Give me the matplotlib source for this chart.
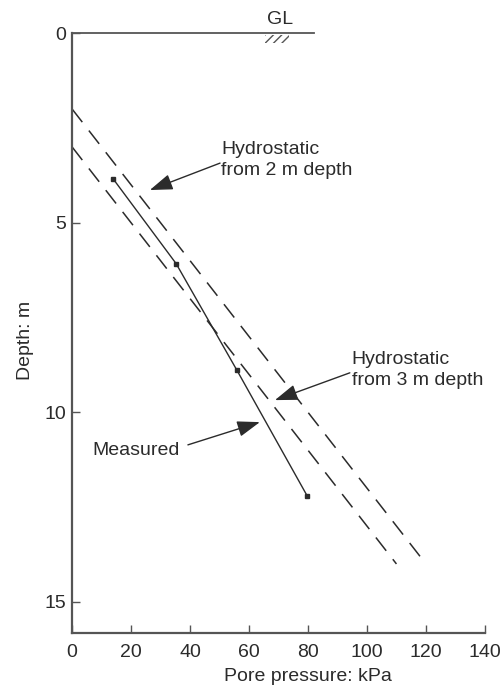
import matplotlib
matplotlib.use("Agg")
import matplotlib.pyplot as plt
from matplotlib.patches import Rectangle

plt.rcParams['font.family'] = ['Liberation Sans', 'DejaVu Sans']

# Data
measured_p = [13.9, 35.3, 55.9, 79.7]      # kPa
measured_z = [3.84, 6.08, 8.89, 12.2]      # m
hydro2_p = [0, 120]
hydro2_z = [2, 14]
hydro3_p = [0, 110]
hydro3_z = [3, 14]
gl_extent = [0, 82]
x_ticks = [0, 20, 40, 60, 80, 100, 120, 140]
y_ticks = [0, 5, 10, 15]

col = '#2b2b2b'
fs = 14
fig = plt.figure(figsize=(5.02, 6.88), dpi=100)
ax = fig.add_axes([0.1434, 0.080, 0.8226, 0.872])

ax.plot(hydro2_p, hydro2_z, color=col, lw=1.1, dashes=(11, 7))
ax.plot(hydro3_p, hydro3_z, color=col, lw=1.1, dashes=(11, 7))
ax.plot(measured_p, measured_z, color=col, lw=1.0, marker='s', ms=3.5)

# ground level line
ax.plot(gl_extent, [0, 0], color='#555555', lw=1.3, clip_on=False)
ax.text(70.5, -0.12, 'GL', ha='center', va='bottom', fontsize=fs, color=col)
ax.add_patch(Rectangle((65.5, 0.05), 8, 0.2, hatch='////', fill=False,
                       lw=0, edgecolor='#555555', clip_on=False))

ax.set_xlim(0, 140)
ax.set_ylim(15.82, 0)
ax.set_xticks(x_ticks)
ax.set_yticks(y_ticks)
ax.tick_params(direction='in', length=6, width=1, colors='#555555',
               labelcolor=col, labelsize=fs)
ax.tick_params(axis='x', pad=8)
ax.tick_params(axis='y', pad=4)
for s in ['top', 'right']:
    ax.spines[s].set_visible(False)
for s in ['left', 'bottom']:
    ax.spines[s].set_color('#555555')
    ax.spines[s].set_linewidth(1.6)

ax.set_xlabel('Pore pressure: kPa', fontsize=fs, color=col, labelpad=5, x=0.571)
ax.set_ylabel('Depth: m', fontsize=fs, color=col, labelpad=8, y=0.488)

ap = dict(arrowstyle='-|>,head_length=1.0,head_width=0.35', color=col, lw=1.0,
          mutation_scale=14, shrinkA=0, shrinkB=0)
ax.annotate('', xy=(26.4, 4.14), xytext=(50.2, 3.43), arrowprops=ap)
ax.annotate('', xy=(68.8, 9.68), xytext=(94.2, 8.96), arrowprops=ap)
ax.annotate('', xy=(63.7, 10.26), xytext=(39.3, 10.86), arrowprops=ap)

ax.text(50.6, 3.35, 'Hydrostatic\nfrom 2 m depth', ha='left', va='center',
        fontsize=fs, color=col, linespacing=1.3)
ax.text(94.8, 8.88, 'Hydrostatic\nfrom 3 m depth', ha='left', va='center',
        fontsize=fs, color=col, linespacing=1.3)
ax.text(6.8, 11.02, 'Measured', ha='left', va='center', fontsize=fs, color=col)

fig.savefig('out.png', dpi=100)
